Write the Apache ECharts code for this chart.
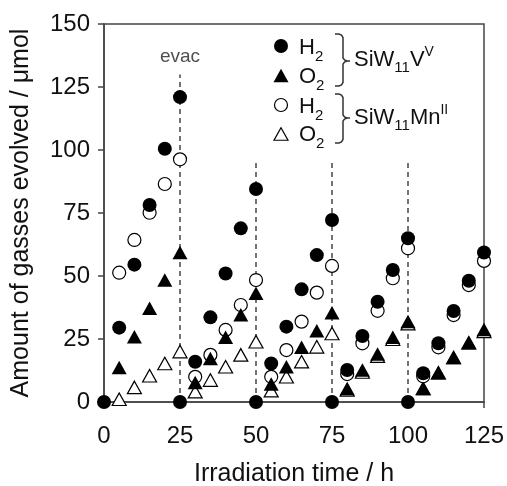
<!DOCTYPE html>
<html><head><meta charset="utf-8">
<script src="https://cdn.jsdelivr.net/npm/echarts@6/dist/echarts.min.js"></script>
<style>html,body{margin:0;padding:0;background:#fff}#c{width:507px;height:486px}</style>
</head><body><div id="c"></div>
<script>
// Irradiation time (h): each cycle starts from 0 after evacuation
const times = [0,5,10,15,20,25, 25,30,35,40,45,50, 50,55,60,65,70,75, 75,80,85,90,95,100, 100,105,110,115,120,125];
// SiW11V(V): H2 (filled circles) and O2 (filled triangles), µmol
const h2V  = [0,29.5,54.5,78.2,100.5,121, 0,16,33.6,51,68.9,84.5, 0,15.3,29.9,44.7,58.3,72.2, 0,12.7,26.2,39.8,52.4,65, 0,11.4,23.3,36.1,48.1,59.3];
const o2V  = [null,13.7,25.9,37.2,48.4,59.3, null,7.7,17.3,25.7,34.6,43.2, null,7.1,14,21.7,28.3,35.4, null,5.4,12.7,19,25.7,31.9, null,5.4,11.6,17.7,23.5,28.8];
// SiW11Mn(II): H2 (open circles) and O2 (open triangles), µmol
const h2Mn = [null,51.3,64.3,75.1,86.5,96.3, null,10,18.7,28.6,38.5,48.4, null,10,20.6,31.9,43.4,54, null,11.1,23.3,36.2,49.1,61, null,10.2,21.7,34.5,46.4,56];
const o2Mn = [null,1.1,5.8,10.4,15.3,20, null,4.1,8.7,14,18.7,23.9, null,4.5,10,16,21.9,27.2, null,4.8,11.9,18.2,24.9,31.1, null,5.4,11.6,17.7,23.5,28];
// evacuation markers
const evacTimes = [25,50,75,100];
const evacTops = [130,95,95,95];
const evacText = 'evac';
const evacTextY = 137;

const FONT = 'Liberation Sans, Arial, Helvetica, sans-serif';
const pts = v => times.map((t,i)=> v[i]==null ? null : [t, v[i]]).filter(p=>p);

const chart = echarts.init(document.getElementById('c'), null, {renderer:'canvas'});
const axisCol = '#444';

const series = [];
evacTimes.forEach((t,i)=>{
  series.push({type:'line', data:[[t,0],[t,evacTops[i]]], symbol:'none', silent:true, z:1,
    lineStyle:{color:'#444', width:1.5, type:[5,4]}});
});
series.push({type:'scatter', data:[[evacTimes[0], evacTextY]], symbolSize:0, silent:true,
  label:{show:true, position:'inside', formatter:evacText, fontSize:19, fontFamily:FONT, color:'#222'}});
series.push({type:'scatter', name:'O2 Mn', data:pts(o2Mn), symbol:'triangle', symbolSize:[14,12.5],
  itemStyle:{color:'#fff', borderColor:'#000', borderWidth:1.2, opacity:1}});
series.push({type:'scatter', name:'H2 Mn', data:pts(h2Mn), symbol:'circle', symbolSize:13,
  itemStyle:{color:'#fff', borderColor:'#000', borderWidth:1.2, opacity:1}});
series.push({type:'scatter', name:'O2 V', data:pts(o2V), symbol:'triangle', symbolSize:[15,13.5],
  itemStyle:{color:'#000', opacity:1}});
series.push({type:'scatter', name:'H2 V', data:pts(h2V), symbol:'circle', symbolSize:14,
  itemStyle:{color:'#000', opacity:1}});

// legend text built from segments [text, fontSize, dy]
const ctx = document.createElement('canvas').getContext('2d');
function segText(x, cy, segs){
  const out = [];
  segs.forEach(([t, size, dy])=>{
    const font = size + 'px ' + FONT;
    out.push({type:'text', x:x, y:cy+dy, z:100, silent:true,
      style:{text:t, font:font, fill:'#111', verticalAlign:'middle', align:'left'}});
    ctx.font = font;
    x += ctx.measureText(t).width;
  });
  return out;
}
const tri = (cx,cy,w,h) => [[cx,cy-h/2],[cx+w/2,cy+h/2],[cx-w/2,cy+h/2]];
const bracket = (x0,xv,xm,top,mid,bot) => [
  [x0,top],[xv-4,top],[xv-1.5,top+1],[xv,top+3.5],[xv,mid-3],[xv+1.5,mid-1],[xv+4,mid],[xm,mid],
  [xv+4,mid],[xv+1.5,mid+1],[xv,mid+3],[xv,bot-3.5],[xv-1.5,bot-1],[xv-4,bot],[x0,bot]];

const graphic = [
  {type:'circle', z:100, shape:{cx:281, cy:46, r:7}, style:{fill:'#000'}},
  {type:'polygon', z:100, shape:{points:tri(281,75.5,15,13.5)}, style:{fill:'#000'}},
  {type:'circle', z:100, shape:{cx:281, cy:105, r:6.5}, style:{fill:'#fff', stroke:'#000', lineWidth:1.2}},
  {type:'polygon', z:100, shape:{points:tri(281,134,14,12.5)}, style:{fill:'#fff', stroke:'#000', lineWidth:1.2}},
  ...segText(299, 47.5, [['H',22,0],['2',15,9]]),
  ...segText(299, 77, [['O',22,0],['2',15,9]]),
  ...segText(299, 106.5, [['H',22,0],['2',15,9]]),
  ...segText(299, 134.5, [['O',22,0],['2',15,9]]),
  {type:'polyline', z:100, shape:{points:bracket(335,343,350,34,61,86)}, style:{fill:null, stroke:'#333', lineWidth:1.5}},
  {type:'polyline', z:100, shape:{points:bracket(335,343,350,94,118,143)}, style:{fill:null, stroke:'#333', lineWidth:1.5}},
  ...segText(354, 60, [['SiW',22,0],['11',15,7.5],['V',22,0],['V',14,-7.5]]),
  ...segText(354, 118, [['SiW',22,0],['11',15,7.5],['Mn',22,0],['II',14,-7.5]])
];

chart.setOption({
  animation:false,
  backgroundColor:'#fff',
  grid:{left:104, right:23, top:24, bottom:84, show:true, borderColor:axisCol, borderWidth:1.5,
        containLabel:false, outerBoundsMode:'none'},
  xAxis:{type:'value', min:0, max:125, interval:25,
    name:'Irradiation time / h', nameLocation:'middle', nameGap:60,
    nameTextStyle:{fontSize:25, fontFamily:FONT, color:'#111'},
    axisLine:{show:true, lineStyle:{color:axisCol, width:1.5}},
    axisTick:{show:true, inside:false, length:6, lineStyle:{color:axisCol, width:1.5}},
    axisLabel:{fontSize:24, fontFamily:FONT, color:'#111', margin:22},
    splitLine:{show:false}},
  yAxis:{type:'value', min:0, max:150, interval:25,
    name:'Amount of gasses evolved / \u03bcmol', nameLocation:'middle', nameGap:70,
    nameTextStyle:{fontSize:25, fontFamily:FONT, color:'#111'},
    axisLine:{show:true, lineStyle:{color:axisCol, width:1.5}},
    axisTick:{show:true, inside:false, length:6, lineStyle:{color:axisCol, width:1.5}},
    axisLabel:{fontSize:24, fontFamily:FONT, color:'#111', margin:14},
    splitLine:{show:false}},
  series:series,
  graphic:graphic
});
</script></body></html>
